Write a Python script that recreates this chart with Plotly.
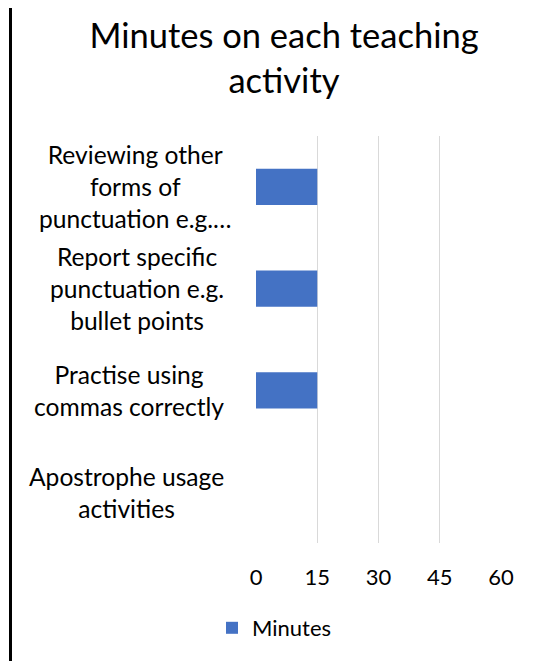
import plotly.graph_objects as go

# Data (bottom to top as plotted on the category axis)
categories = [
    "Apostrophe usage activities",
    "Practise using commas correctly",
    "Report specific punctuation e.g. bullet points",
    "Reviewing other forms of punctuation e.g.…",
]
category_labels = [
    "Apostrophe usage<br>activities",
    "Practise using<br>commas correctly",
    "Report specific<br>punctuation e.g.<br>bullet points",
    "Reviewing other<br>forms of<br>punctuation e.g.…",
]
minutes = [0, 15, 15, 15]
tick_values = [0, 15, 30, 45, 60]
tick_labels = ["0", "15", "30", "45", "60"]

FONT = "Lato"
OFF = 8  # page body margin
W, H = 541 - OFF, 661 - OFF
L, T = 256 - OFF, 136 - OFF
R = W - (501 - OFF)
B = H - (543 - OFF)
pw = W - L - R
ph = H - T - B

def px_x(page_x):
    return (page_x - OFF - L) / pw

def px_y(page_y):
    return (H - B - (page_y - OFF)) / ph

fig = go.Figure()
fig.add_trace(go.Bar(
    y=categories, x=minutes, orientation="h", name="Minutes",
    marker=dict(color="#4472C4", line=dict(width=0)),
))

# category labels as centered multi-line annotations anchored to the axis
label_right = [225.5, 225.5, 225.5, 234]
for cat, lab, rx in zip(categories, category_labels, label_right):
    fig.add_annotation(
        x=px_x(rx), xref="paper", y=cat, yref="y",
        text=lab, showarrow=False, xanchor="right", yanchor="middle",
        align="center", font=dict(family=FONT, size=24.6, color="#000000"),
    )

# left border line
fig.add_shape(type="line", xref="paper", yref="paper",
              x0=px_x(10.5), x1=px_x(10.5),
              y0=px_y(700), y1=px_y(-20),
              line=dict(color="#000000", width=3))

fig.update_layout(
    width=W, height=H,
    margin=dict(l=L, r=R, t=T, b=B, pad=0),
    paper_bgcolor="white", plot_bgcolor="white",
    bargap=0.646,
    title=dict(text="Minutes on each teaching<br>activity",
               x=(284 - OFF) / W, xanchor="center", xref="container",
               y=1 - 40 / H, yanchor="middle", yref="container",
               font=dict(family=FONT, size=34.5, color="#000000")),
    xaxis=dict(range=[0, 60], tickvals=tick_values, ticktext=tick_labels,
               showgrid=True, gridcolor="#D9D9D9", gridwidth=1.3,
               zeroline=False, showline=False, ticks="",
               ticklabelstandoff=19,
               tickfont=dict(family=FONT, size=22, color="#000000")),
    yaxis=dict(showticklabels=False, showgrid=False, zeroline=False,
               showline=False, ticks=""),
    showlegend=True,
    legend=dict(orientation="h", x=px_x(251 - 45 + 6), xanchor="left",
                y=px_y(628), yanchor="middle", yref="paper",
                font=dict(family=FONT, size=22, color="#000000"),
                bgcolor="rgba(0,0,0,0)"),
)

fig.write_html("out.html")
